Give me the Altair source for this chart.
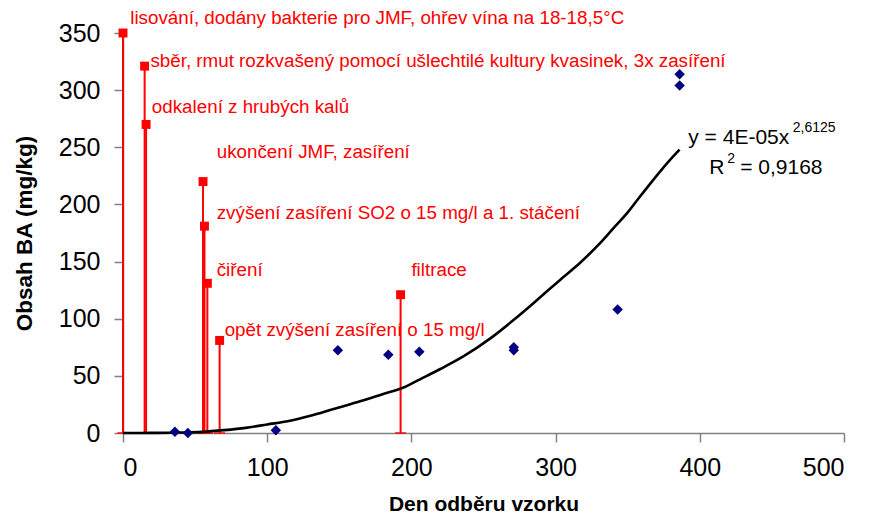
import altair as alt
import pandas as pd

# Technological interventions (red stems)
event_day = [0, 15, 16, 55.5, 56.5, 58.5, 67, 192.5]
event_value = [350, 321, 270, 220, 181, 131, 81, 121]
event_label = [
    "lisování, dodány bakterie pro JMF, ohřev vína na 18-18,5°C",
    "sběr, rmut rozkvašený pomocí ušlechtilé kultury kvasinek, 3x zasíření",
    "odkalení z hrubých kalů",
    "ukončení JMF, zasíření",
    "zvýšení zasíření SO2 o 15 mg/l a 1. stáčení",
    "čiření",
    "opět zvýšení zasíření o 15 mg/l",
    "filtrace",
]
label_x = [5, 19, 20, 65, 65, 65, 70.5, 200]
label_y = [363.5, 325.5, 285, 245.5, 192.5, 142.5, 90.5, 142.5]

# Measured BA content (blue diamonds)
sample_day = [36, 45, 106, 149, 184, 205.5, 271, 271, 343, 386, 386]
sample_ba = [1, 0, 2.5, 72.5, 68.5, 71, 75, 72.5, 108, 314, 304]

# Power trend line as drawn in the picture
trend_day = [0, 20, 40, 55, 70, 85, 100, 115, 130, 146, 165, 180, 195, 206, 220, 236,
             255, 271, 285, 294, 305, 317, 330, 340, 350, 358, 370, 378, 386]
trend_ba = [0, 0.1, 0.4, 1, 2.5, 4.5, 7.5, 10.5, 15, 21, 28, 34, 40, 47, 56, 67,
            83, 99, 114, 124, 136, 149, 165, 179, 193, 206, 225, 237, 248]

# Trend equation annotation
eq_text = ["y = 4E-05x", "2,6125", "R", "2", "= 0,9168"]
eq_x = [392, 464.5, 406.5, 419, 428]
eq_y = [258.5, 266.5, 232.3, 239.5, 232.3]
eq_size = [21, 14, 21, 14, 21]

events = pd.DataFrame({"day": event_day, "value": event_value, "label": event_label,
                       "lx": label_x, "ly": label_y})
samples = pd.DataFrame({"day": sample_day, "ba": sample_ba})
trend = pd.DataFrame({"day": trend_day, "ba": trend_ba})
eq = pd.DataFrame({"text": eq_text, "x": eq_x, "y": eq_y, "size": eq_size})

FONT = "Liberation Sans"
RED = "#FF0000"

xscale = alt.Scale(domain=[0, 500], nice=False, zero=False)
yscale = alt.Scale(domain=[0, 350], nice=False, zero=False)

xaxis = alt.Axis(values=[0, 100, 200, 300, 400, 500], grid=False, title="Den odběru vzorku",
                 labelFont=FONT, labelFontSize=25, labelColor="black", labelPadding=13,
                 titleFont=FONT, titleFontSize=21, titleFontWeight="bold", titleColor="black",
                 titlePadding=13, tickSize=9, tickColor="#808080", domainColor="#808080",
                 domainWidth=1.5, tickWidth=1.5)
yaxis = alt.Axis(values=[0, 50, 100, 150, 200, 250, 300, 350], grid=False, title="Obsah BA (mg/kg)",
                 labelFont=FONT, labelFontSize=25, labelColor="black", labelPadding=14,
                 titleFont=FONT, titleFontSize=22.5, titleFontWeight="bold", titleColor="black",
                 titlePadding=22, tickSize=9, tickColor="#808080", domainColor="#808080",
                 domainWidth=1.5, tickWidth=1.5)

base_x = alt.X("day:Q", scale=xscale, axis=xaxis)

stems = alt.Chart(events).mark_rule(color=RED, strokeWidth=2).encode(
    x=base_x, y=alt.Y("value:Q", scale=yscale, axis=yaxis), y2=alt.datum(0))
caps = alt.Chart(events).mark_tick(color=RED, orient="horizontal", size=11, thickness=2).encode(
    x="day:Q", y=alt.datum(0))
squares = alt.Chart(events).mark_square(color=RED, size=80, opacity=1).encode(
    x="day:Q", y="value:Q")
labels = alt.Chart(events).mark_text(color=RED, font=FONT, fontSize=18.8, align="left",
                                     baseline="middle").encode(
    x="lx:Q", y="ly:Q", text="label:N")

curve = alt.Chart(trend).mark_line(color="black", strokeWidth=2.6, interpolate="monotone").encode(
    x="day:Q", y="ba:Q")

diamonds = alt.Chart(samples).mark_point(shape="diamond", filled=True, color="#000080",
                                         size=110, opacity=1).encode(
    x="day:Q", y="ba:Q")

eq_marks = alt.Chart(eq).mark_text(color="black", font=FONT, align="left",
                                   baseline="middle").encode(
    x="x:Q", y="y:Q", text="text:N", size=alt.Size("size:Q", scale=None, legend=None))

chart = alt.layer(stems, caps, curve, squares, diamonds, labels, eq_marks).properties(
    width=721, height=400,
    autosize=alt.AutoSizeParams(type="none"),
    padding={"left": 115, "top": 25, "right": 10, "bottom": 84},
    background="white",
).configure_view(stroke=None)

chart.save("out.html", embed_options={"renderer": "svg", "actions": False})
